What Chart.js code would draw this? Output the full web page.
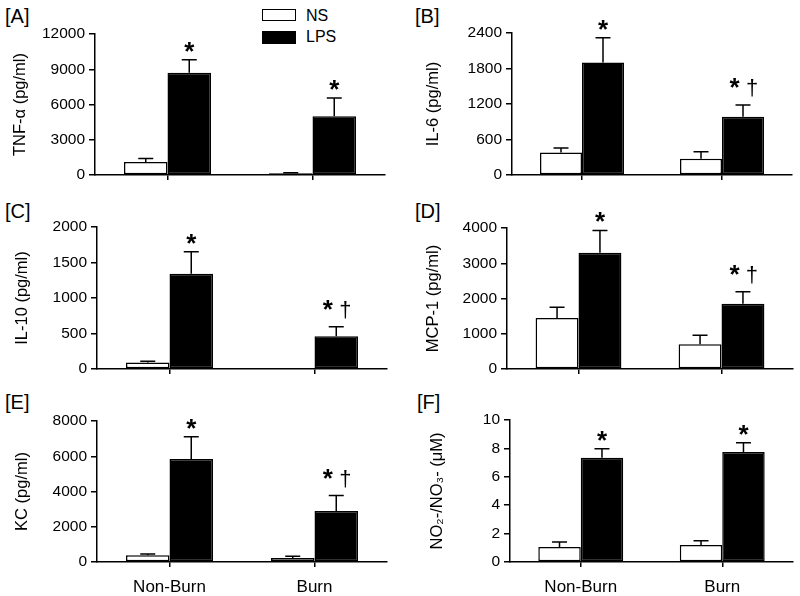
<!DOCTYPE html>
<html>
<head>
<meta charset="utf-8">
<script src="https://cdn.jsdelivr.net/npm/chart.js@4"></script>
<style>
  body { margin: 0; background: #fff; }
  #wrap { position: relative; width: 800px; height: 596px; overflow: hidden; background: #fff;
          font-family: Arial, "Liberation Sans", sans-serif; color: #000; }
  #wrap canvas { position: absolute; }
  .tag { position: absolute; font-size: 20px; line-height: 20px; }
  .key { position: absolute; box-sizing: border-box; border: 1.5px solid #000; }
  .keytxt { position: absolute; font-size: 16px; line-height: 16px; }
</style>
</head>
<body>
<div id="wrap"></div>
<script>
const groups = ['Non-Burn', 'Burn'];
const seriesNames = ['NS', 'LPS'];

// [A] TNF-alpha
const tnfNS = [1100, 150];
const tnfNSErr = [300, 40];
const tnfLPS = [8700, 5000];
const tnfLPSErr = [1100, 1550];
const tnfMarks = ['*', '*'];
const tnfTicks = [0, 3000, 6000, 9000, 12000];

// [B] IL-6
const il6NS = [380, 275];
const il6NSErr = [75, 120];
const il6LPS = [1900, 985];
const il6LPSErr = [420, 200];
const il6Marks = ['*', '*†'];
const il6Ticks = [0, 600, 1200, 1800, 2400];

// [C] IL-10
const il10NS = [90, 15];
const il10NSErr = [20, 0];
const il10LPS = [1340, 460];
const il10LPSErr = [310, 135];
const il10Marks = ['*', '*†'];
const il10Ticks = [0, 500, 1000, 1500, 2000];

// [D] MCP-1
const mcpNS = [1450, 700];
const mcpNSErr = [300, 260];
const mcpLPS = [3300, 1850];
const mcpLPSErr = [630, 340];
const mcpMarks = ['*', '*†'];
const mcpTicks = [0, 1000, 2000, 3000, 4000];

// [E] KC
const kcNS = [380, 230];
const kcNSErr = [80, 90];
const kcLPS = [5850, 2900];
const kcLPSErr = [1250, 870];
const kcMarks = ['*', '*†'];
const kcTicks = [0, 2000, 4000, 6000, 8000];

// [F] NO2-/NO3-
const noxNS = [1.05, 1.2];
const noxNSErr = [0.35, 0.3];
const noxLPS = [7.35, 7.75];
const noxLPSErr = [0.63, 0.65];
const noxMarks = ['*', '*'];
const noxTicks = [0, 2, 4, 6, 8, 10];

const panels = [
  { tag: '[A]', title: 'TNF-α (pg/ml)', ns: tnfNS, nsErr: tnfNSErr, lps: tnfLPS, lpsErr: tnfLPSErr, marks: tnfMarks, ticks: tnfTicks,
    showGroups: false, cell: [0, 0, 400, 195], area: [95, 34, 385, 175], titleX: 20, tagPos: [5, 6] },
  { tag: '[B]', title: 'IL-6 (pg/ml)', ns: il6NS, nsErr: il6NSErr, lps: il6LPS, lpsErr: il6LPSErr, marks: il6Marks, ticks: il6Ticks,
    showGroups: false, cell: [400, 0, 400, 195], area: [512, 33, 792, 175], titleX: 433, tagPos: [415, 6] },
  { tag: '[C]', title: 'IL-10 (pg/ml)', ns: il10NS, nsErr: il10NSErr, lps: il10LPS, lpsErr: il10LPSErr, marks: il10Marks, ticks: il10Ticks,
    showGroups: false, cell: [0, 195, 400, 195], area: [97, 227, 387, 369], titleX: 22, tagPos: [5, 201] },
  { tag: '[D]', title: 'MCP-1 (pg/ml)', ns: mcpNS, nsErr: mcpNSErr, lps: mcpLPS, lpsErr: mcpLPSErr, marks: mcpMarks, ticks: mcpTicks,
    showGroups: false, cell: [400, 195, 400, 195], area: [507, 228, 793, 369], titleX: 433, tagPos: [415, 201] },
  { tag: '[E]', title: 'KC (pg/ml)', ns: kcNS, nsErr: kcNSErr, lps: kcLPS, lpsErr: kcLPSErr, marks: kcMarks, ticks: kcTicks,
    showGroups: true, cell: [0, 390, 400, 206], area: [97, 421, 387, 562], titleX: 22, tagPos: [5, 392] },
  { tag: '[F]', title: 'NO₂-/NO₃- (μM)', ns: noxNS, nsErr: noxNSErr, lps: noxLPS, lpsErr: noxLPSErr, marks: noxMarks, ticks: noxTicks,
    showGroups: true, cell: [400, 390, 400, 206], area: [510, 420, 793, 562], titleX: 437, tagPos: [417, 392] }
];

const FONT = 'Arial, "Liberation Sans", sans-serif';
const TITLE_SIZE = 16.5;
Chart.defaults.font.family = FONT;
Chart.defaults.color = '#000';

// upward-only SEM bars with a cap
const errorBars = {
  id: 'errorBars',
  afterDatasetsDraw(chart) {
    const ctx = chart.ctx;
    const yScale = chart.scales.y;
    ctx.save();
    ctx.strokeStyle = '#000';
    ctx.lineWidth = 1.5;
    chart.data.datasets.forEach((ds, i) => {
      if (!ds.errors) return;
      chart.getDatasetMeta(i).data.forEach((bar, j) => {
        if (!ds.errors[j]) return;
        const top = yScale.getPixelForValue(ds.data[j] + ds.errors[j]);
        ctx.beginPath();
        ctx.moveTo(bar.x, bar.y);
        ctx.lineTo(bar.x, top);
        ctx.moveTo(bar.x - 7.5, top);
        ctx.lineTo(bar.x + 7.5, top);
        ctx.stroke();
      });
    });
    ctx.restore();
  }
};

// significance marks (* vs NS, † vs Non-Burn)
const sigMarks = {
  id: 'sigMarks',
  afterDatasetsDraw(chart) {
    const ctx = chart.ctx;
    const yScale = chart.scales.y;
    ctx.save();
    ctx.fillStyle = '#000';
    ctx.textAlign = 'center';
    ctx.textBaseline = 'alphabetic';
    chart.data.datasets.forEach((ds, i) => {
      if (!ds.marks) return;
      chart.getDatasetMeta(i).data.forEach((bar, j) => {
        const m = ds.marks[j];
        if (!m) return;
        const top = yScale.getPixelForValue(ds.data[j] + (ds.errors ? ds.errors[j] : 0));
        if (m.includes('†')) {
          ctx.font = 'bold 26px ' + FONT;
          ctx.fillText('*', bar.x - 8.5, top - 9);
          ctx.font = '22px ' + FONT;
          ctx.fillText('†', bar.x + 9, top - 10);
        } else {
          ctx.font = 'bold 26px ' + FONT;
          ctx.fillText('*', bar.x, top);
        }
      });
    });
    ctx.restore();
  }
};

const wrap = document.getElementById('wrap');

// legend (top panel)
const keyColors = ['#fff', '#000'];
seriesNames.forEach((name, i) => {
  const box = document.createElement('div');
  box.className = 'key';
  box.style.cssText = `left:262px;top:${9 + i * 22}px;width:34px;height:${12 + i}px;background:${keyColors[i]}`;
  wrap.appendChild(box);
  const txt = document.createElement('div');
  txt.className = 'keytxt';
  txt.style.cssText = `left:306px;top:${8 + i * 21}px`;
  txt.textContent = name;
  wrap.appendChild(txt);
});

panels.forEach(p => {
  const [cx, cy, cw, ch] = p.cell;
  const [al, at, ar, ab] = p.area;

  const tag = document.createElement('div');
  tag.className = 'tag';
  tag.style.left = p.tagPos[0] + 'px';
  tag.style.top = p.tagPos[1] + 'px';
  tag.textContent = p.tag;
  wrap.appendChild(tag);

  const canvas = document.createElement('canvas');
  canvas.width = cw;
  canvas.height = ch;
  canvas.style.left = cx + 'px';
  canvas.style.top = cy + 'px';
  wrap.appendChild(canvas);

  const yWidth = al - (p.titleX - TITLE_SIZE * 0.6);
  const xHeight = cy + ch - ab;
  const t = p.ticks;

  new Chart(canvas, {
    type: 'bar',
    data: {
      labels: groups,
      datasets: [
        { label: seriesNames[0], data: p.ns, errors: p.nsErr, backgroundColor: '#fff', borderColor: '#000',
          borderWidth: 1.5, borderSkipped: false, categoryPercentage: 0.6, barPercentage: 1 },
        { label: seriesNames[1], data: p.lps, errors: p.lpsErr, marks: p.marks, backgroundColor: '#000', borderColor: '#000',
          borderWidth: 1.5, borderSkipped: false, categoryPercentage: 0.6, barPercentage: 1 }
      ]
    },
    options: {
      responsive: false,
      animation: false,
      devicePixelRatio: 1,
      events: [],
      layout: { padding: { left: al - cx - yWidth, top: at - cy, right: cx + cw - ar, bottom: 0 } },
      plugins: { legend: { display: false }, tooltip: { enabled: false } },
      scales: {
        x: {
          offset: true,
          grid: { offset: false, drawOnChartArea: false, drawTicks: true, tickLength: 5, color: '#000', lineWidth: 1.5 },
          border: { color: '#000', width: 1.5 },
          ticks: { display: p.showGroups, color: '#000', font: { size: 17 }, padding: 10, maxRotation: 0 },
          afterFit: s => { s.height = xHeight; }
        },
        y: {
          min: t[0],
          max: t[t.length - 1],
          ticks: { stepSize: t[1] - t[0], color: '#000', font: { size: 15.5 }, padding: 4, callback: v => String(v) },
          grid: { drawOnChartArea: false, tickLength: 6, color: '#000', lineWidth: 1.5 },
          border: { color: '#000', width: 1.5 },
          title: { display: true, text: p.title, color: '#000', font: { size: TITLE_SIZE, lineHeight: 1.2 }, padding: 0 },
          afterFit: s => { s.width = yWidth; }
        }
      }
    },
    plugins: [errorBars, sigMarks]
  });
});
</script>
</body>
</html>
